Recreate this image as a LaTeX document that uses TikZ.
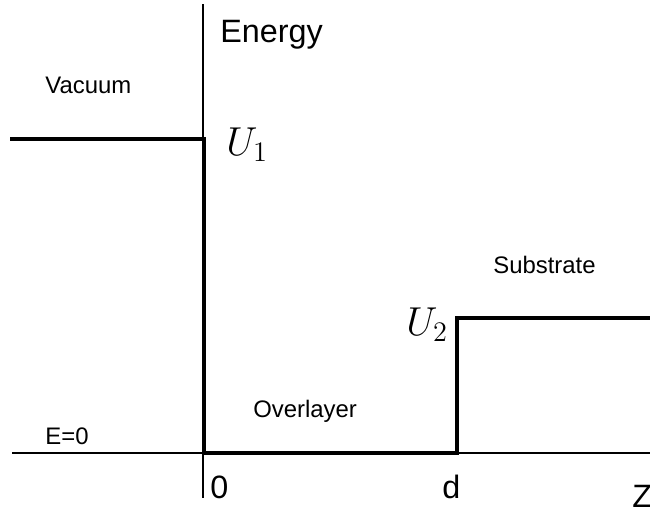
\RequirePackage{fix-cm}
\documentclass[tikz,border=0pt]{standalone}
\usepackage{fontspec}
\newfontfamily\plotsans{Liberation Sans}
\usepackage{tikz}
\usetikzlibrary{positioning}
\tikzset{
  axisline/.style={line width=0.7pt, draw=black},
  potline/.style={line width=2.3pt, draw=black, line join=miter},
  biglabel/.style={anchor=base west, inner sep=0pt,
    font=\plotsans\fontsize{18.4}{22}\selectfont},
  smalllabel/.style={anchor=base west, inner sep=0pt,
    font=\plotsans\fontsize{13.6}{16}\selectfont},
  mathlabel/.style={anchor=base west, inner sep=0pt,
    font=\fontsize{23}{28}\selectfont}
}

\begin{document}
\begin{tikzpicture}[x=0.2mm, y=-0.2mm]
\useasboundingbox (0,0) rectangle (650,513);
% axes
\coordinate (ytop) at (203,4);
\coordinate (ybot) at (203,498);
\coordinate (xleft) at (12,453);
\coordinate (xright) at (650,453);
\draw[axisline] (ytop) -- (ybot);
\draw[axisline] (xleft) -- (xright);
% step potential
\coordinate (vac) at (10,139);
\coordinate (wallA) at (204,139);
\coordinate (floorA) at (204,453);
\coordinate (floorB) at (457,453);
\coordinate (wallB) at (457,318);
\coordinate (sub) at (650,318);
\draw[potline] (vac) -- (wallA) -- (floorA) -- (floorB) -- (wallB) -- (sub);
% labels
\node[biglabel] (energy) at (220,42) {Energy};
\node[smalllabel] (vacuum) at (45,93) {Vacuum};
\node[mathlabel] (uone) at (226,155) {$U_1$};
\node[smalllabel] (substrate) at (493,273) {Substrate};
\node[mathlabel] (utwo) at (406,335) {$U_2$};
\node[smalllabel] (overlayer) at (253,417) {Overlayer};
\node[smalllabel] (ezero) at (45,444) {E=0};
\node[biglabel] (zero) at (210,498) {0};
\node[biglabel] (dlab) at (442,498) {d};
\node[biglabel] (zlab) at (632,507) {Z};
\end{tikzpicture}
\end{document}
